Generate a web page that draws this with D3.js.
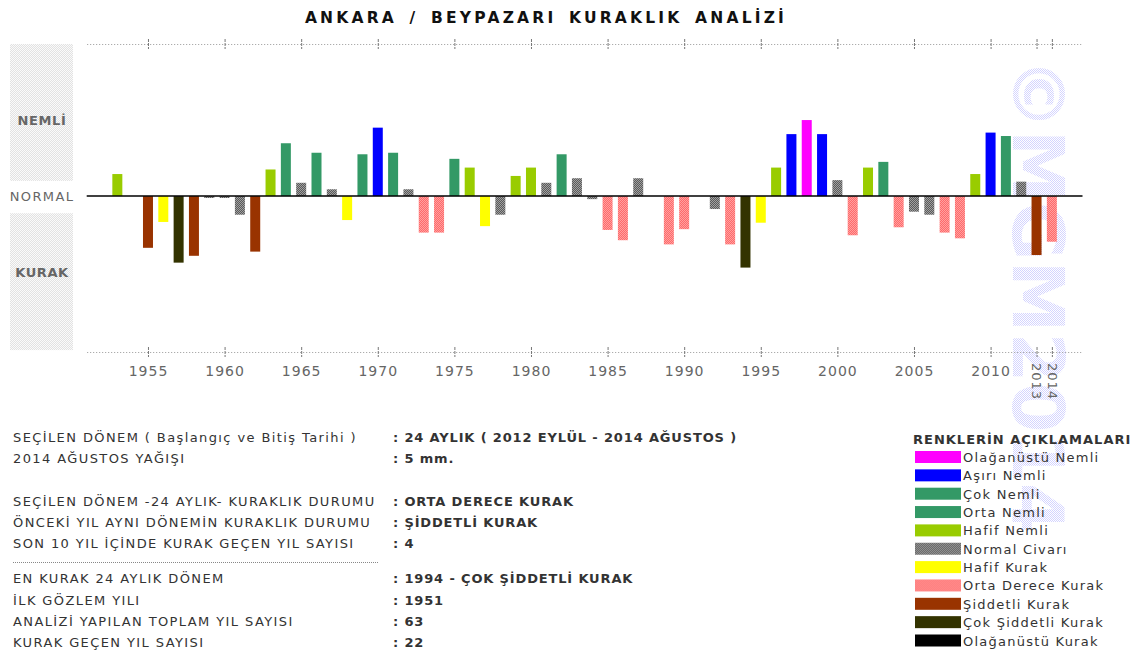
<!DOCTYPE html>
<html>
<head>
<meta charset="utf-8">
<script src="https://cdn.jsdelivr.net/npm/d3@7"></script>
<style>
  body { margin: 0; background: #fff; }
  svg { display: block; }
</style>
</head>
<body>
<script>
// years and 24-month drought index
var years = [1953, 1954, 1955, 1956, 1957, 1958, 1959, 1960, 1961, 1962,
             1963, 1964, 1965, 1966, 1967, 1968, 1969, 1970, 1971, 1972,
             1973, 1974, 1975, 1976, 1977, 1978, 1979, 1980, 1981, 1982,
             1983, 1984, 1985, 1986, 1987, 1988, 1989, 1990, 1991, 1992,
             1993, 1994, 1995, 1996, 1997, 1998, 1999, 2000, 2001, 2002,
             2003, 2004, 2005, 2006, 2007, 2008, 2009, 2010, 2011, 2012,
             2013, 2014];
var values = [0.58, 0, -1.36, -0.68, -1.75, -1.57, -0.05, -0.05, -0.49, -1.46,
              0.70, 1.39, 0.35, 1.14, 0.18, -0.63, 1.10, 1.80, 1.14, 0.18,
              -0.96, -0.96, 0.98, 0.75, -0.79, -0.49, 0.53, 0.75, 0.35, 1.10,
              0.47, -0.08, -0.89, -1.16, 0.47, 0, -1.27, -0.87, 0, -0.34,
              -1.27, -1.88, -0.70, 0.75, 1.63, 2.00, 1.63, 0.42, -1.03, 0.75,
              0.90, -0.82, -0.41, -0.49, -0.96, -1.11, 0.58, 1.67, 1.58, 0.38,
              -1.55, -1.20];
// class index of each bar (into classNames)
var classes = [4, 5, 8, 6, 9, 8, 5, 5, 5, 8,
               4, 2, 5, 3, 5, 6, 3, 1, 3, 5,
               7, 7, 3, 4, 6, 5, 4, 4, 5, 3,
               5, 5, 7, 7, 5, 5, 7, 7, 5, 5,
               7, 9, 6, 4, 1, 0, 1, 5, 7, 4,
               3, 7, 5, 5, 7, 7, 4, 1, 2, 5,
               8, 7];

var classNames = ['Olağanüstü Nemli', 'Aşırı Nemli', 'Çok Nemli', 'Orta Nemli', 'Hafif Nemli',
                  'Normal Civarı', 'Hafif Kurak', 'Orta Derece Kurak', 'Şiddetli Kurak',
                  'Çok Şiddetli Kurak', 'Olağanüstü Kurak'];
var classColors = ['#ff00ff', '#0000ff', '#339966', '#339966', '#99cc00',
                   'url(#dotGray)', '#ffff00', 'url(#dotPink)', '#993300',
                   '#333300', '#000000'];

var tickYears = [1955, 1960, 1965, 1970, 1975, 1980, 1985, 1990, 1995, 2000, 2005, 2010, 2013, 2014];
var rotatedTicks = [2013, 2014];
var sideLabels = ['NEMLİ', 'NORMAL', 'KURAK'];
var sideLevels = [2, 0, -2];

var infoLabels = ['SEÇİLEN DÖNEM ( Başlangıç ve Bitiş Tarihi )', '2014 AĞUSTOS YAĞIŞI', '',
                  'SEÇİLEN DÖNEM -24 AYLIK- KURAKLIK DURUMU', 'ÖNCEKİ YIL AYNI DÖNEMİN KURAKLIK DURUMU',
                  'SON 10 YIL İÇİNDE KURAK GEÇEN YIL SAYISI', '',
                  'EN KURAK 24 AYLIK DÖNEM', 'İLK GÖZLEM YILI', 'ANALİZİ YAPILAN TOPLAM YIL SAYISI',
                  'KURAK GEÇEN YIL SAYISI'];
var infoValues = [': 24 AYLIK ( 2012 EYLÜL - 2014 AĞUSTOS )', ': 5 mm.', '',
                  ': ORTA DERECE KURAK', ': ŞİDDETLİ KURAK', ': 4', '',
                  ': 1994 - ÇOK ŞİDDETLİ KURAK', ': 1951', ': 63', ': 22'];
var infoRowY = [442, 463, 0, 506, 527, 548, 0, 583, 605, 626, 647];

var W = 1140, H = 654;
var font = '"DejaVu Sans", Verdana, sans-serif';

var svg = d3.select('body').append('svg')
        .attr('width', W)
        .attr('height', H);

var defs = svg.append('defs');
function dither(id, c1, c2) {
    var p = defs.append('pattern')
            .attr('id', id)
            .attr('width', 2)
            .attr('height', 2)
            .attr('patternUnits', 'userSpaceOnUse');
    p.append('rect').attr('width', 2).attr('height', 2).attr('fill', c1);
    p.append('rect').attr('width', 1).attr('height', 1).attr('fill', c2);
    p.append('rect').attr('x', 1).attr('y', 1).attr('width', 1).attr('height', 1).attr('fill', c2);
}
dither('dotGray', '#5a5a5a', '#a0a0a0');
dither('dotPink', '#ff6a6a', '#ffa0a0');
dither('dotSide', '#e2e2e2', '#fafafa');
dither('dotMark', '#ffffff', '#d4d4ff');

var x = d3.scaleLinear().domain([1951, 2016]).range([86.7, 1082.5]);
var y = d3.scaleLinear().domain([-4.1, 4]).range([352, 44]);

// Watermark (beneath everything)
svg.append('text')
        .attr('transform', 'translate(1013,58) rotate(90)')
        .attr('font-family', font)
        .attr('font-weight', 'bold')
        .attr('font-size', 72)
        .attr('fill', 'url(#dotMark)')
        .text('©MGM2014');

// Title
svg.append('text')
        .attr('x', 546)
        .attr('y', 23)
        .attr('text-anchor', 'middle')
        .attr('font-family', font)
        .attr('font-weight', 'bold')
        .attr('font-size', 15.5)
        .attr('letter-spacing', 3.2)
        .attr('word-spacing', 4)
        .attr('fill', '#111')
        .text('ANKARA / BEYPAZARI KURAKLIK ANALİZİ');

// Side boxes
svg.append('rect')
        .attr('x', 10).attr('width', 63)
        .attr('y', y(4)).attr('height', y(0.4) - y(4))
        .attr('fill', 'url(#dotSide)');
svg.append('rect')
        .attr('x', 10).attr('width', 63)
        .attr('y', y(-0.45)).attr('height', y(-4.05) - y(-0.45))
        .attr('fill', 'url(#dotSide)');

svg.selectAll('.side').data(sideLabels).enter().append('text')
        .attr('class', 'side')
        .attr('x', 42)
        .attr('y', function(d, i) { return y(sideLevels[i]) + 5; })
        .attr('text-anchor', 'middle')
        .attr('font-family', font)
        .attr('font-weight', function(d, i) { return i == 1 ? 'normal' : 'bold'; })
        .attr('font-size', 13)
        .attr('letter-spacing', function(d, i) { return i == 1 ? 1.4 : 0.6; })
        .attr('fill', '#666')
        .text(function(d) { return d; });

// Top and bottom dotted axes
function styleAxis(g) {
    g.select('.domain')
            .attr('stroke', '#999')
            .attr('stroke-dasharray', '1,2');
    g.selectAll('.tick line')
            .attr('y1', -5)
            .attr('y2', 5)
            .attr('stroke', '#777')
            .attr('stroke-dasharray', '3,1');
}

var topAxis = svg.append('g')
        .attr('transform', 'translate(0,' + y(4) + ')')
        .call(d3.axisTop(x).tickValues(tickYears).tickSizeOuter(0).tickFormat(''));
styleAxis(topAxis);

var bottomAxis = svg.append('g')
        .attr('transform', 'translate(0,' + y(-4.1) + ')')
        .call(d3.axisBottom(x).tickValues(tickYears).tickSizeOuter(0).tickFormat(d3.format('d')));
styleAxis(bottomAxis);
bottomAxis.selectAll('.tick text')
        .attr('font-family', font)
        .attr('font-size', 14)
        .attr('letter-spacing', 1)
        .attr('fill', '#666')
        .attr('y', 14)
        .attr('dy', '0.71em');
bottomAxis.selectAll('.tick text')
        .filter(function(d) { return rotatedTicks.indexOf(d) >= 0; })
        .attr('transform', 'rotate(90)')
        .attr('text-anchor', 'start')
        .attr('font-size', 13)
        .attr('x', 11)
        .attr('y', 0)
        .attr('dy', '0.35em');

// Bars
var barW = 10;
svg.selectAll('.bar').data(years).enter().append('rect')
        .attr('class', 'bar')
        .attr('x', function(d) { return x(d) - barW / 2; })
        .attr('width', barW)
        .attr('y', function(d, i) { return y(Math.max(0, values[i])); })
        .attr('height', function(d, i) { return Math.abs(y(values[i]) - y(0)); })
        .attr('fill', function(d, i) { return classColors[classes[i]]; });

// Zero line
svg.append('line')
        .attr('x1', x(1951)).attr('x2', x(2016))
        .attr('y1', y(0)).attr('y2', y(0))
        .attr('stroke', '#000')
        .attr('stroke-width', 1.5);

// Info table
var info = svg.append('g');
info.selectAll('.lbl').data(infoLabels).enter().append('text')
        .attr('class', 'lbl')
        .attr('x', 13)
        .attr('y', function(d, i) { return infoRowY[i]; })
        .attr('font-family', font)
        .attr('font-size', 13)
        .attr('letter-spacing', 1.4)
        .attr('fill', '#333')
        .text(function(d) { return d; });
info.selectAll('.val').data(infoValues).enter().append('text')
        .attr('class', 'val')
        .attr('x', 393)
        .attr('y', function(d, i) { return infoRowY[i]; })
        .attr('font-family', font)
        .attr('font-weight', 'bold')
        .attr('font-size', 13)
        .attr('letter-spacing', 0.85)
        .attr('fill', '#333')
        .text(function(d) { return d; });
info.append('line')
        .attr('x1', 13).attr('x2', 378)
        .attr('y1', 562.5).attr('y2', 562.5)
        .attr('stroke', '#888')
        .attr('stroke-dasharray', '1,1');

// Legend
var legend = svg.append('g').attr('transform', 'translate(913,0)');
legend.append('text')
        .attr('x', 0).attr('y', 444)
        .attr('font-family', font)
        .attr('font-weight', 'bold')
        .attr('font-size', 13)
        .attr('letter-spacing', 1)
        .attr('fill', '#333')
        .text('RENKLERİN AÇIKLAMALARI');
var rows = legend.selectAll('.leg').data(classNames).enter().append('g')
        .attr('class', 'leg')
        .attr('transform', function(d, i) { return 'translate(0,' + (451 + i * 18.35) + ')'; });
rows.append('rect')
        .attr('x', 2).attr('width', 46)
        .attr('height', 12)
        .attr('fill', function(d, i) { return classColors[i]; });
rows.append('text')
        .attr('x', 50).attr('y', 11)
        .attr('font-family', font)
        .attr('font-size', 13)
        .attr('letter-spacing', 1.25)
        .attr('fill', '#333')
        .text(function(d) { return d; });
</script>
</body>
</html>
